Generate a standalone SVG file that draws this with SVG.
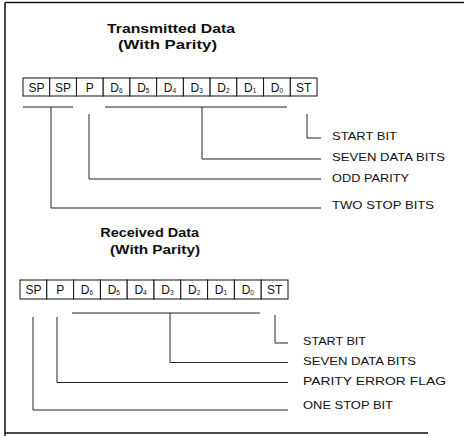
<svg xmlns="http://www.w3.org/2000/svg" width="464" height="436" viewBox="0 0 464 436">
<style>
.frame{stroke:#111;stroke-width:1.5;fill:none}
.box{fill:#fff;stroke:#111;stroke-width:1}
.bt{font-family:"Liberation Sans",Arial,sans-serif;font-size:12px;fill:#111;text-anchor:middle}
.sub{font-size:6.5px}
.title{font-family:"Liberation Sans",Arial,sans-serif;font-size:13.5px;font-weight:bold;fill:#111;text-anchor:middle}
.lbl{font-family:"Liberation Sans",Arial,sans-serif;font-size:11px;fill:#111}
.conn{stroke:#222;stroke-width:1;fill:none}
</style>
<rect width="464" height="436" fill="#fff"/>
<g id="frame">
<path class="frame" d="M5,2.5 H464 M5,2.5 V436 M5,433 H428"/>
</g>
<g id="title-tx">
<text class="title" x="171" y="33" textLength="128" lengthAdjust="spacingAndGlyphs">Transmitted Data</text>
<text class="title" x="167.5" y="49" textLength="99" lengthAdjust="spacingAndGlyphs">(With Parity)</text>
</g>
<g id="tx-frame">
<rect class="box" x="23" y="78" width="26.73" height="18"/>
<rect class="box" x="49.73" y="78" width="26.73" height="18"/>
<rect class="box" x="76.46" y="78" width="26.73" height="18"/>
<rect class="box" x="103.19" y="78" width="26.73" height="18"/>
<rect class="box" x="129.92" y="78" width="26.73" height="18"/>
<rect class="box" x="156.65" y="78" width="26.73" height="18"/>
<rect class="box" x="183.38" y="78" width="26.73" height="18"/>
<rect class="box" x="210.11" y="78" width="26.73" height="18"/>
<rect class="box" x="236.84" y="78" width="26.73" height="18"/>
<rect class="box" x="263.57" y="78" width="26.73" height="18"/>
<rect class="box" x="290.3" y="78" width="26.73" height="18"/>
<text class="bt" x="36.4" y="91.5">SP</text>
<text class="bt" x="63.1" y="91.5">SP</text>
<text class="bt" x="89.8" y="91.5">P</text>
<text class="bt" x="116.5" y="91.5">D<tspan class="sub" dy="1">6</tspan></text>
<text class="bt" x="143.3" y="91.5">D<tspan class="sub" dy="1">5</tspan></text>
<text class="bt" x="170" y="91.5">D<tspan class="sub" dy="1">4</tspan></text>
<text class="bt" x="196.7" y="91.5">D<tspan class="sub" dy="1">3</tspan></text>
<text class="bt" x="223.5" y="91.5">D<tspan class="sub" dy="1">2</tspan></text>
<text class="bt" x="250.2" y="91.5">D<tspan class="sub" dy="1">1</tspan></text>
<text class="bt" x="276.9" y="91.5">D<tspan class="sub" dy="1">0</tspan></text>
<text class="bt" x="303.6" y="91.5">ST</text>
</g>
<g id="tx-labels">
<text class="lbl" x="332" y="140" textLength="65" lengthAdjust="spacingAndGlyphs">START BIT</text>
<text class="lbl" x="332" y="161" textLength="113" lengthAdjust="spacingAndGlyphs">SEVEN DATA BITS</text>
<text class="lbl" x="332" y="182" textLength="77" lengthAdjust="spacingAndGlyphs">ODD PARITY</text>
<text class="lbl" x="332" y="209" textLength="102" lengthAdjust="spacingAndGlyphs">TWO STOP BITS</text>
</g>
<g id="title-rx">
<text class="title" x="149.7" y="237" textLength="99" lengthAdjust="spacingAndGlyphs">Received Data</text>
<text class="title" x="155" y="254" textLength="90" lengthAdjust="spacingAndGlyphs">(With Parity)</text>
</g>
<g id="rx-frame">
<rect class="box" x="20" y="280" width="26.8" height="19"/>
<rect class="box" x="46.8" y="280" width="26.8" height="19"/>
<rect class="box" x="73.6" y="280" width="26.8" height="19"/>
<rect class="box" x="100.4" y="280" width="26.8" height="19"/>
<rect class="box" x="127.2" y="280" width="26.8" height="19"/>
<rect class="box" x="154" y="280" width="26.8" height="19"/>
<rect class="box" x="180.8" y="280" width="26.8" height="19"/>
<rect class="box" x="207.6" y="280" width="26.8" height="19"/>
<rect class="box" x="234.4" y="280" width="26.8" height="19"/>
<rect class="box" x="261.2" y="280" width="26.8" height="19"/>
<text class="bt" x="33.4" y="294">SP</text>
<text class="bt" x="60.2" y="294">P</text>
<text class="bt" x="87" y="294">D<tspan class="sub" dy="1">6</tspan></text>
<text class="bt" x="113.8" y="294">D<tspan class="sub" dy="1">5</tspan></text>
<text class="bt" x="140.6" y="294">D<tspan class="sub" dy="1">4</tspan></text>
<text class="bt" x="167.4" y="294">D<tspan class="sub" dy="1">3</tspan></text>
<text class="bt" x="194.2" y="294">D<tspan class="sub" dy="1">2</tspan></text>
<text class="bt" x="221" y="294">D<tspan class="sub" dy="1">1</tspan></text>
<text class="bt" x="247.8" y="294">D<tspan class="sub" dy="1">0</tspan></text>
<text class="bt" x="274.6" y="294">ST</text>
</g>
<g id="rx-labels">
<text class="lbl" x="303" y="345" textLength="63" lengthAdjust="spacingAndGlyphs">START BIT</text>
<text class="lbl" x="303" y="365" textLength="113" lengthAdjust="spacingAndGlyphs">SEVEN DATA BITS</text>
<text class="lbl" x="303" y="385" textLength="143" lengthAdjust="spacingAndGlyphs">PARITY ERROR FLAG</text>
<text class="lbl" x="303" y="409" textLength="90" lengthAdjust="spacingAndGlyphs">ONE STOP BIT</text>
</g>
<g id="connectors">
<path class="conn" d="M23,107 H73 M105,107 H287"/>
<path class="conn" d="M51,107 V208 H321"/>
<path class="conn" d="M89,114 V179 H321"/>
<path class="conn" d="M202,107 V159 H321"/>
<path class="conn" d="M307,114 V138 H321"/>
<path class="conn" d="M72,313 H260"/>
<path class="conn" d="M33,317 V410 H288"/>
<path class="conn" d="M57,317 V382.5 H288"/>
<path class="conn" d="M170,313 V362.5 H288"/>
<path class="conn" d="M275,315 V343 H288"/>
</g>
</svg>
